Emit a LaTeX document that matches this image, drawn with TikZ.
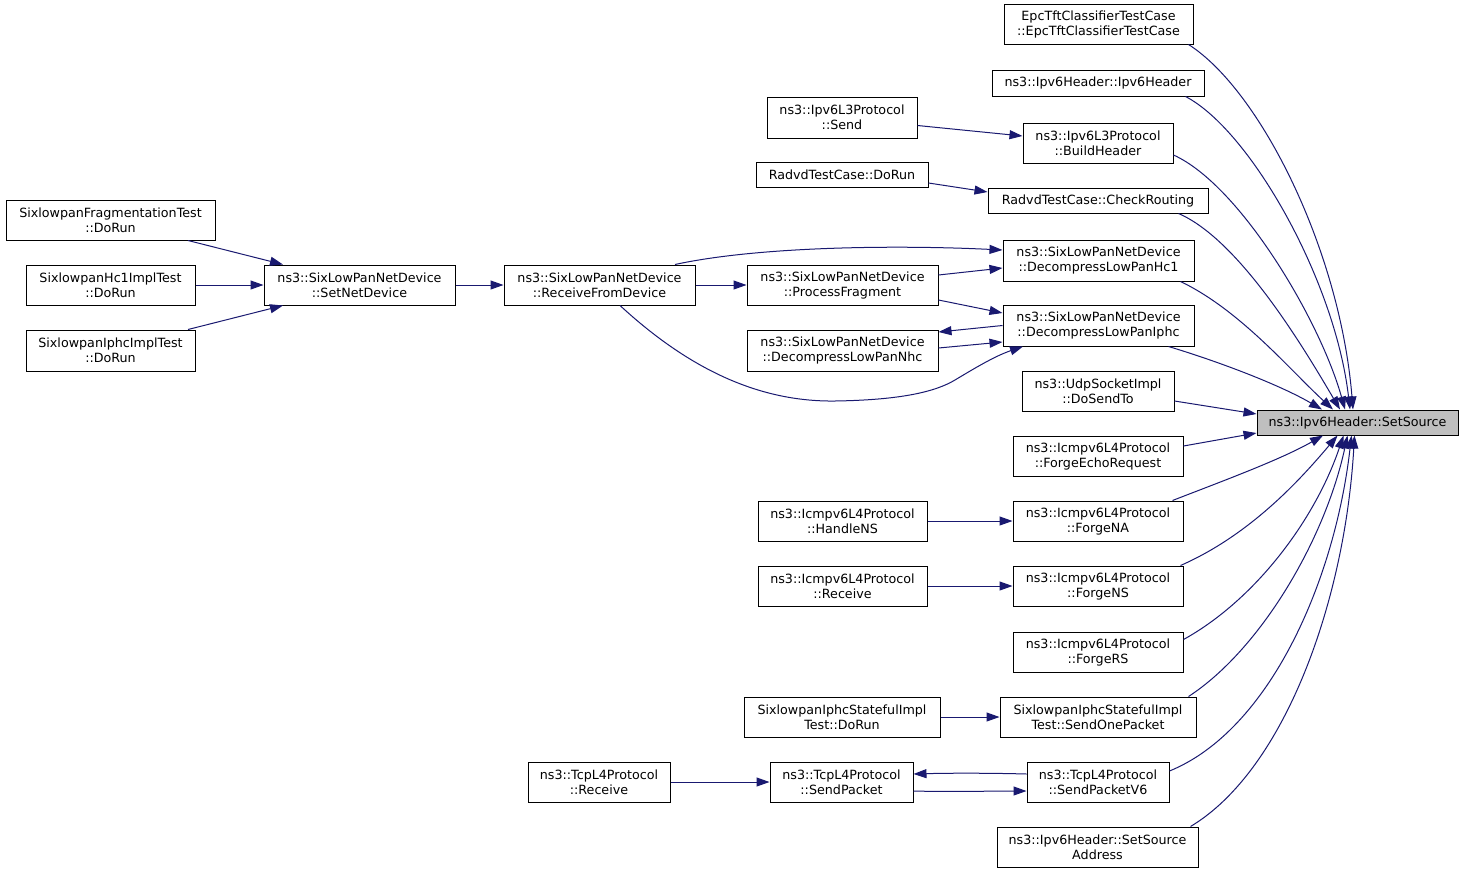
\documentclass[tikz,border=0pt]{standalone}
\usepackage{fontspec}
\setmainfont{DejaVu Sans}
\usetikzlibrary{arrows.meta}
\definecolor{edgecol}{HTML}{191970}
\definecolor{curfill}{HTML}{BFBFBF}
\tikzset{
  fn/.style={draw=black, line width=1pt, fill=white, inner sep=0pt, align=center,
    font=\fontsize{12.7}{15}\selectfont},
  cur/.style={fn, fill=curfill},
  call/.style={draw=edgecol, line width=1pt, -{Triangle[length=13pt,width=9pt]}},
}
\begin{document}
\begin{tikzpicture}[x=1pt,y=-1pt]
\useasboundingbox[fill=white] (0,0) rectangle (1464,873);
% nodes
\node[fn, minimum width=189pt, minimum height=40pt] (epc) at (1098.5,24) {EpcTftClassifierTestCase\\::EpcTftClassifierTestCase};
\node[fn, minimum width=212pt, minimum height=26pt] (ipvh) at (1098,83) {ns3::Ipv6Header::Ipv6Header};
\node[fn, minimum width=150pt, minimum height=41pt] (l3send) at (842,117.5) {ns3::Ipv6L3Protocol\\::Send};
\node[fn, minimum width=150pt, minimum height=40pt] (build) at (1098,143) {ns3::Ipv6L3Protocol\\::BuildHeader};
\node[fn, minimum width=172pt, minimum height=25pt] (radvd) at (842,174.5) {RadvdTestCase::DoRun};
\node[fn, minimum width=220pt, minimum height=25pt] (check) at (1098,200.5) {RadvdTestCase::CheckRouting};
\node[fn, minimum width=209pt, minimum height=40pt] (frag) at (110.5,220) {SixlowpanFragmentationTest\\::DoRun};
\node[fn, minimum width=191pt, minimum height=41pt] (hc1) at (1098.5,260.5) {ns3::SixLowPanNetDevice\\::DecompressLowPanHc1};
\node[fn, minimum width=169pt, minimum height=40pt] (hc1test) at (110.5,285) {SixlowpanHc1ImplTest\\::DoRun};
\node[fn, minimum width=191pt, minimum height=40pt] (setnet) at (359.5,285) {ns3::SixLowPanNetDevice\\::SetNetDevice};
\node[fn, minimum width=191pt, minimum height=40pt] (rfd) at (599.5,285) {ns3::SixLowPanNetDevice\\::ReceiveFromDevice};
\node[fn, minimum width=191pt, minimum height=40pt] (procfrag) at (842.5,285) {ns3::SixLowPanNetDevice\\::ProcessFragment};
\node[fn, minimum width=191pt, minimum height=41pt] (iphc) at (1098.5,325.5) {ns3::SixLowPanNetDevice\\::DecompressLowPanIphc};
\node[fn, minimum width=169pt, minimum height=41pt] (iphctest) at (110.5,350.5) {SixlowpanIphcImplTest\\::DoRun};
\node[fn, minimum width=191pt, minimum height=41pt] (nhc) at (842.5,350.5) {ns3::SixLowPanNetDevice\\::DecompressLowPanNhc};
\node[fn, minimum width=152pt, minimum height=40pt] (udp) at (1098,391) {ns3::UdpSocketImpl\\::DoSendTo};
\node[cur, minimum width=201pt, minimum height=25pt] (setsrc) at (1357.5,422.5) {ns3::Ipv6Header::SetSource};
\node[fn, minimum width=170pt, minimum height=40pt] (echo) at (1098,456) {ns3::Icmpv6L4Protocol\\::ForgeEchoRequest};
\node[fn, minimum width=169pt, minimum height=40pt] (handlens) at (842.5,521) {ns3::Icmpv6L4Protocol\\::HandleNS};
\node[fn, minimum width=170pt, minimum height=40pt] (forgena) at (1098,521) {ns3::Icmpv6L4Protocol\\::ForgeNA};
\node[fn, minimum width=169pt, minimum height=40pt] (icmprecv) at (842.5,586) {ns3::Icmpv6L4Protocol\\::Receive};
\node[fn, minimum width=170pt, minimum height=40pt] (forgens) at (1098,586) {ns3::Icmpv6L4Protocol\\::ForgeNS};
\node[fn, minimum width=170pt, minimum height=40pt] (forgers) at (1098,652) {ns3::Icmpv6L4Protocol\\::ForgeRS};
\node[fn, minimum width=196pt, minimum height=40pt] (statedorun) at (842,717) {SixlowpanIphcStatefulImpl\\Test::DoRun};
\node[fn, minimum width=196pt, minimum height=40pt] (sendone) at (1098,717) {SixlowpanIphcStatefulImpl\\Test::SendOnePacket};
\node[fn, minimum width=142pt, minimum height=40pt] (tcprecv) at (599,782) {ns3::TcpL4Protocol\\::Receive};
\node[fn, minimum width=143pt, minimum height=40pt] (sendpkt) at (841.5,782) {ns3::TcpL4Protocol\\::SendPacket};
\node[fn, minimum width=142pt, minimum height=40pt] (sendpktv6) at (1098,782) {ns3::TcpL4Protocol\\::SendPacketV6};
\node[fn, minimum width=201pt, minimum height=40pt] (setsrcaddr) at (1097.5,847) {ns3::Ipv6Header::SetSource\\Address};
% edges into SetSource (top)
\draw[call] ([xshift=-5pt]epc.south east) .. controls (1260,90) and (1340,250) .. ([xshift=-4.5pt]setsrc.north);
\draw[call] ([xshift=-19pt]ipvh.south east) .. controls (1250,130) and (1335,280) .. ([xshift=-7.5pt]setsrc.north);
\draw[call] ([yshift=-12pt]build.east) .. controls (1240,185) and (1320,320) .. ([xshift=-12.5pt]setsrc.north);
\draw[call] ([xshift=-30pt]check.south east) .. controls (1240,240) and (1305,350) .. ([xshift=-17.5pt]setsrc.north);
\draw[call] ([xshift=-14pt]hc1.south east) .. controls (1240,310) and (1290,370) .. ([xshift=-24.5pt]setsrc.north);
\draw[call] ([xshift=-26pt]iphc.south east) .. controls (1220,362) and (1280,385) .. ([xshift=-35.5pt]setsrc.north);
\draw[call] ([yshift=-10pt]udp.east) -- ([yshift=8.5pt]setsrc.west);
\draw[call] ([yshift=10pt]echo.east) -- ([yshift=-10.5pt]setsrc.west);
% edges into SetSource (bottom)
\draw[call] ([xshift=-11pt]forgena.north east) .. controls (1220,482) and (1280,460) .. ([xshift=-34.5pt]setsrc.south);
\draw[call] ([xshift=-3pt]forgens.north east) .. controls (1250,535) and (1300,480) .. ([xshift=-20pt]setsrc.south);
\draw[call] ([yshift=-8pt]forgers.north east) .. controls (1255,600) and (1315,520) .. ([xshift=-14pt]setsrc.south);
\draw[call] ([xshift=-8pt]sendone.north east) .. controls (1260,650) and (1325,540) .. ([xshift=-10pt]setsrc.south);
\draw[call] ([yshift=11pt]sendpktv6.east) .. controls (1270,730) and (1335,580) .. ([xshift=-6pt]setsrc.south);
\draw[call] ([xshift=-8pt]setsrcaddr.north east) .. controls (1285,770) and (1345,600) .. ([xshift=-3pt]setsrc.south);
% other edges
\draw[call] ([yshift=-8pt]l3send.east) -- ([yshift=7pt]build.west);
\draw[call] ([yshift=-8.5pt]radvd.east) -- ([yshift=8.5pt]check.west);
\draw[call] ([xshift=77.5pt]frag.south) -- ([xshift=-76.5pt]setnet.north);
\draw[call] (hc1test.east) -- (setnet.west);
\draw[call] ([xshift=77.5pt]iphctest.north) -- ([xshift=-76.5pt]setnet.south);
\draw[call] (setnet.east) -- (rfd.west);
\draw[call] (rfd.east) -- (procfrag.west);
\draw[call] ([xshift=75.5pt]rfd.north) .. controls (760,246) and (900,245) .. ([yshift=10.5pt]hc1.west);
\draw[call] ([yshift=10pt]procfrag.east) -- ([yshift=-7.5pt]hc1.west);
\draw[call] ([yshift=-15pt]procfrag.east) -- ([yshift=12.5pt]iphc.west);
\draw[call] (iphc.west) -- ([yshift=18.5pt]nhc.east);
\draw[call] ([yshift=2.5pt]nhc.east) -- ([yshift=-16.5pt]iphc.west);
\draw[call] ([xshift=20.5pt]rfd.south) .. controls (690,370) and (760,402) .. (835,401)
   .. controls (900,400) and (935,392) .. (955,380)
   .. controls (975,368) and (995,356) .. ([xshift=-75.5pt]iphc.south);
\draw[call] (handlens.east) -- (forgena.west);
\draw[call] (icmprecv.east) -- (forgens.west);
\draw[call] (statedorun.east) -- (sendone.west);
\draw[call] (tcprecv.east) -- (sendpkt.west);
\draw[call] ([yshift=8pt]sendpktv6.west) .. controls (990,773) and (950,773) .. ([yshift=8pt]sendpkt.east);
\draw[call] ([yshift=-9pt]sendpkt.east) .. controls (950,792) and (990,791) .. ([yshift=-9pt]sendpktv6.west);
\end{tikzpicture}
\end{document}
